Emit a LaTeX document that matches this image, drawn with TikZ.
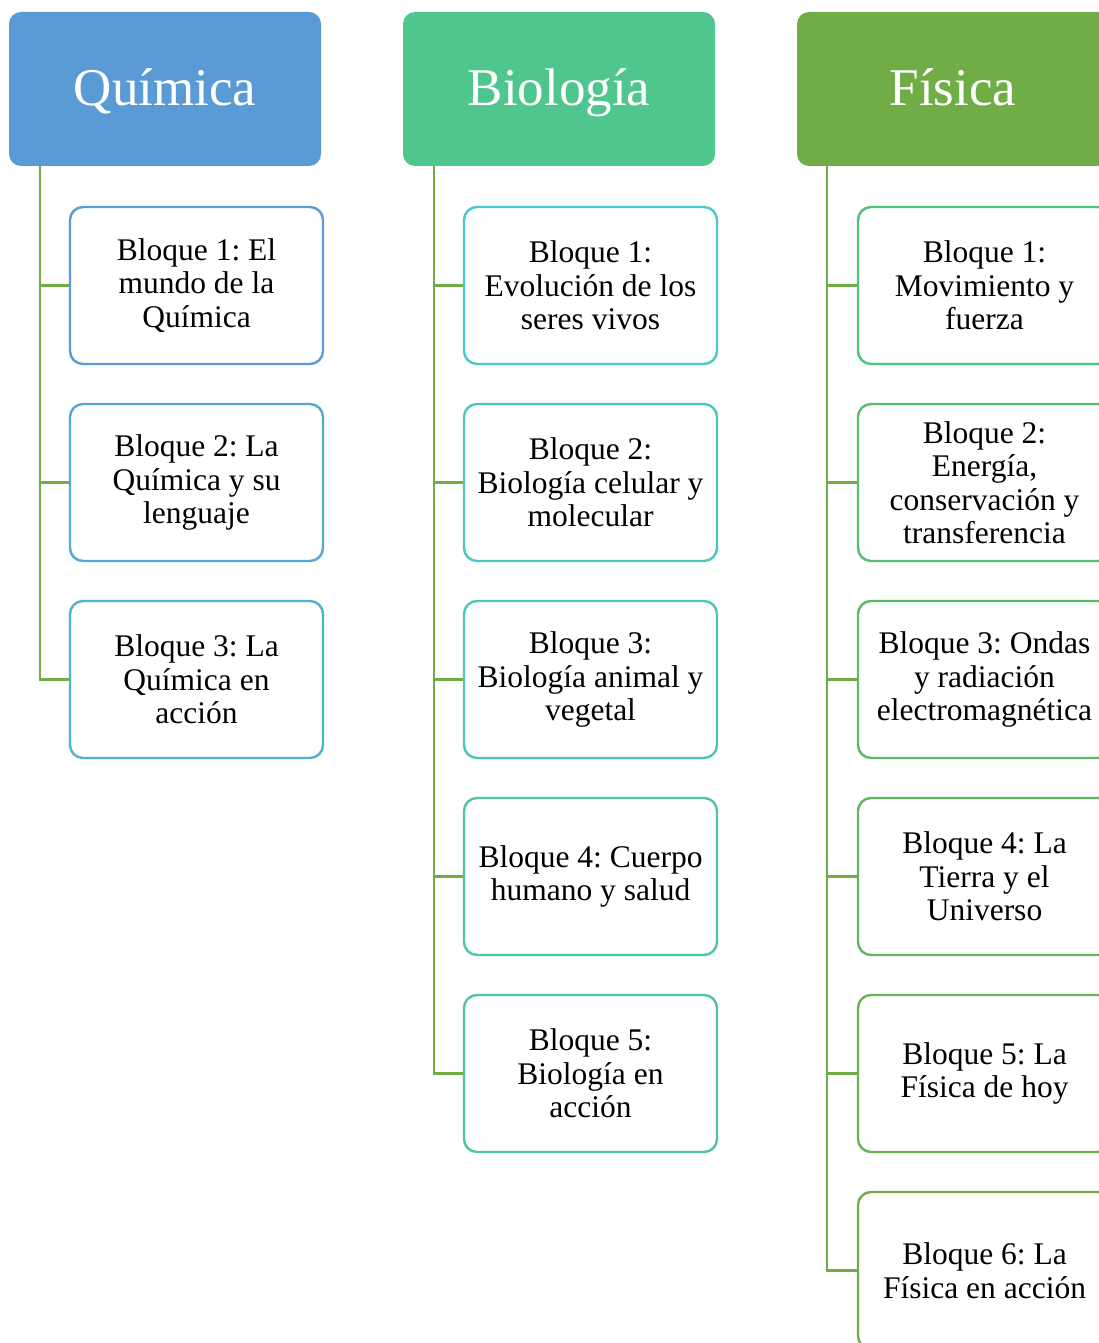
\documentclass[tikz,border=0pt]{standalone}
\usepackage{fontspec}
\setmainfont{Liberation Serif}
\definecolor{qhead}{HTML}{5B9BD5}
\definecolor{bhead}{HTML}{50C68F}
\definecolor{fhead}{HTML}{70AD47}
\definecolor{conn}{HTML}{70AD47}
\definecolor{qa}{HTML}{5B9BD5}
\definecolor{qb}{HTML}{54A8D2}
\definecolor{qc}{HTML}{4DB4CF}
\definecolor{ba}{HTML}{4BC8CD}
\definecolor{bb}{HTML}{4CC7BF}
\definecolor{bc}{HTML}{4DC7B1}
\definecolor{bd}{HTML}{4EC6A2}
\definecolor{be}{HTML}{4FC693}
\definecolor{fa}{HTML}{4EC37A}
\definecolor{fb}{HTML}{55BF71}
\definecolor{fc}{HTML}{5BBA67}
\definecolor{fd}{HTML}{62B65D}
\definecolor{fe}{HTML}{69B152}
\definecolor{ff}{HTML}{70AD47}
\tikzset{
  header/.style={rectangle, rounded corners=12pt, minimum width=312pt, minimum height=154pt,
    inner sep=0pt, text=white, text height=34pt, text depth=0pt,
    font=\fontsize{53}{60}\selectfont},
  child/.style={rectangle, rounded corners=13pt, draw=#1, line width=2.4pt, fill=white,
    minimum width=253pt, minimum height=157pt, inner sep=0pt, align=center,
    font=\fontsize{31.5}{33.5}\selectfont\frenchspacing},
  link/.style={draw=conn, line width=2.4pt}
}
\begin{document}
\begin{tikzpicture}[x=1pt,y=-1pt]
\useasboundingbox (0,0) rectangle (1099,1343);
\clip (0,0) rectangle (1099,1343);
% headers
\node[header, fill=qhead] (q0) at (165,89) {Química};
\node[header, fill=bhead] (b0) at (559,89) {Biología};
\node[header, fill=fhead] (f0) at (953,89) {Física};
% Química
\node[child=qa] (q1) at (196.5,285.5) {Bloque 1: El\\mundo de la\\Química};
\node[child=qb] (q2) at (196.5,482.5) {Bloque 2: La\\Química y su\\lenguaje};
\node[child=qc] (q3) at (196.5,679.5) {Bloque 3: La\\Química en\\acción};
% Biología
\node[child=ba] (b1) at (590.5,285.5) {Bloque 1:\\Evolución de los\\seres vivos};
\node[child=bb] (b2) at (590.5,482.5) {Bloque 2:\\Biología celular y\\molecular};
\node[child=bc] (b3) at (590.5,679.5) {Bloque 3:\\Biología animal y\\vegetal};
\node[child=bd] (b4) at (590.5,876.5) {Bloque 4: Cuerpo\\humano y salud};
\node[child=be] (b5) at (590.5,1073.5) {Bloque 5:\\Biología en\\acción};
% Física
\node[child=fa] (f1) at (984.5,285.5) {Bloque 1:\\Movimiento y\\fuerza};
\node[child=fb] (f2) at (984.5,482.5) {Bloque 2:\\Energía,\\conservación y\\transferencia};
\node[child=fc] (f3) at (984.5,679.5) {Bloque 3: Ondas\\y radiación\\electromagnética};
\node[child=fd] (f4) at (984.5,876.5) {Bloque 4: La\\Tierra y el\\Universo};
\node[child=fe] (f5) at (984.5,1073.5) {Bloque 5: La\\Física de hoy};
\node[child=ff] (f6) at (984.5,1270.5) {Bloque 6: La\\Física en acción};
% connectors
\foreach \c in {q1,q2,q3} \draw[link] ([xshift=31pt]q0.south west) |- (\c.west);
\foreach \c in {b1,b2,b3,b4,b5} \draw[link] ([xshift=31pt]b0.south west) |- (\c.west);
\foreach \c in {f1,f2,f3,f4,f5,f6} \draw[link] ([xshift=30pt]f0.south west) |- (\c.west);
\end{tikzpicture}
\end{document}
